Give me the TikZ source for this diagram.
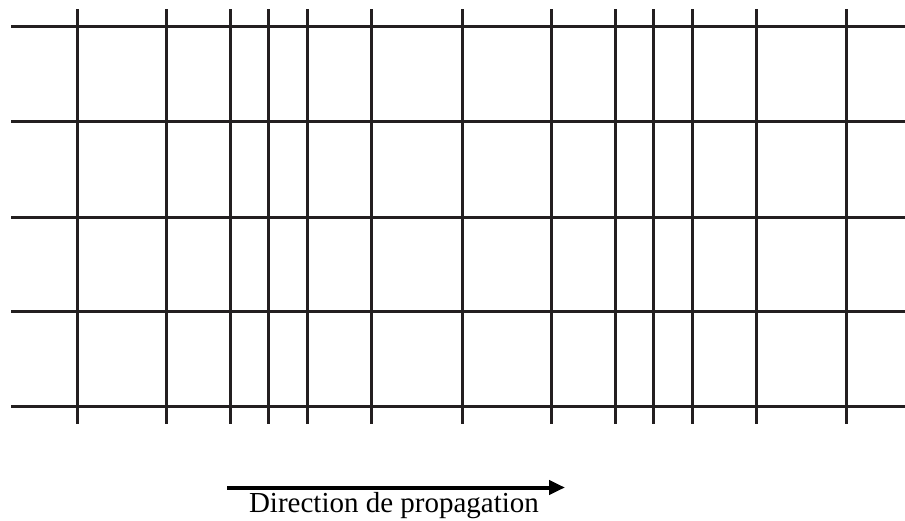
\documentclass[tikz,border=0pt]{standalone}
\usepackage{fontspec}
\setmainfont{Liberation Serif}
\usetikzlibrary{arrows.meta}
\definecolor{gridc}{HTML}{231F20}
\begin{document}
\begin{tikzpicture}[x=1pt,y=-1pt,
  gridline/.style={draw=gridc,line width=3pt},
  proparrow/.style={draw=black,line width=4pt,-{Triangle[length=16pt,width=14pt]}},
  labeltext/.style={font=\fontsize{29}{32}\selectfont,inner sep=0pt,anchor=base}]
\useasboundingbox (0,0) rectangle (905,521);
\foreach \y in {26.7,121.7,217.3,311.7,406.7}
  \draw[gridline] (11,\y) -- (905,\y);
\foreach \x in {77.3,166.7,230.7,268.7,307.3,371,462,551.7,615,653.3,692.3,756.7,846}
  \draw[gridline] (\x,9.5) -- (\x,424);
\coordinate (as) at (227,487.5);
\coordinate (ae) at (565,487.5);
\draw[proparrow] (as) -- (ae);
\node[labeltext] (lab) at (394,512.5) {Direction de propagation};
\end{tikzpicture}
\end{document}
